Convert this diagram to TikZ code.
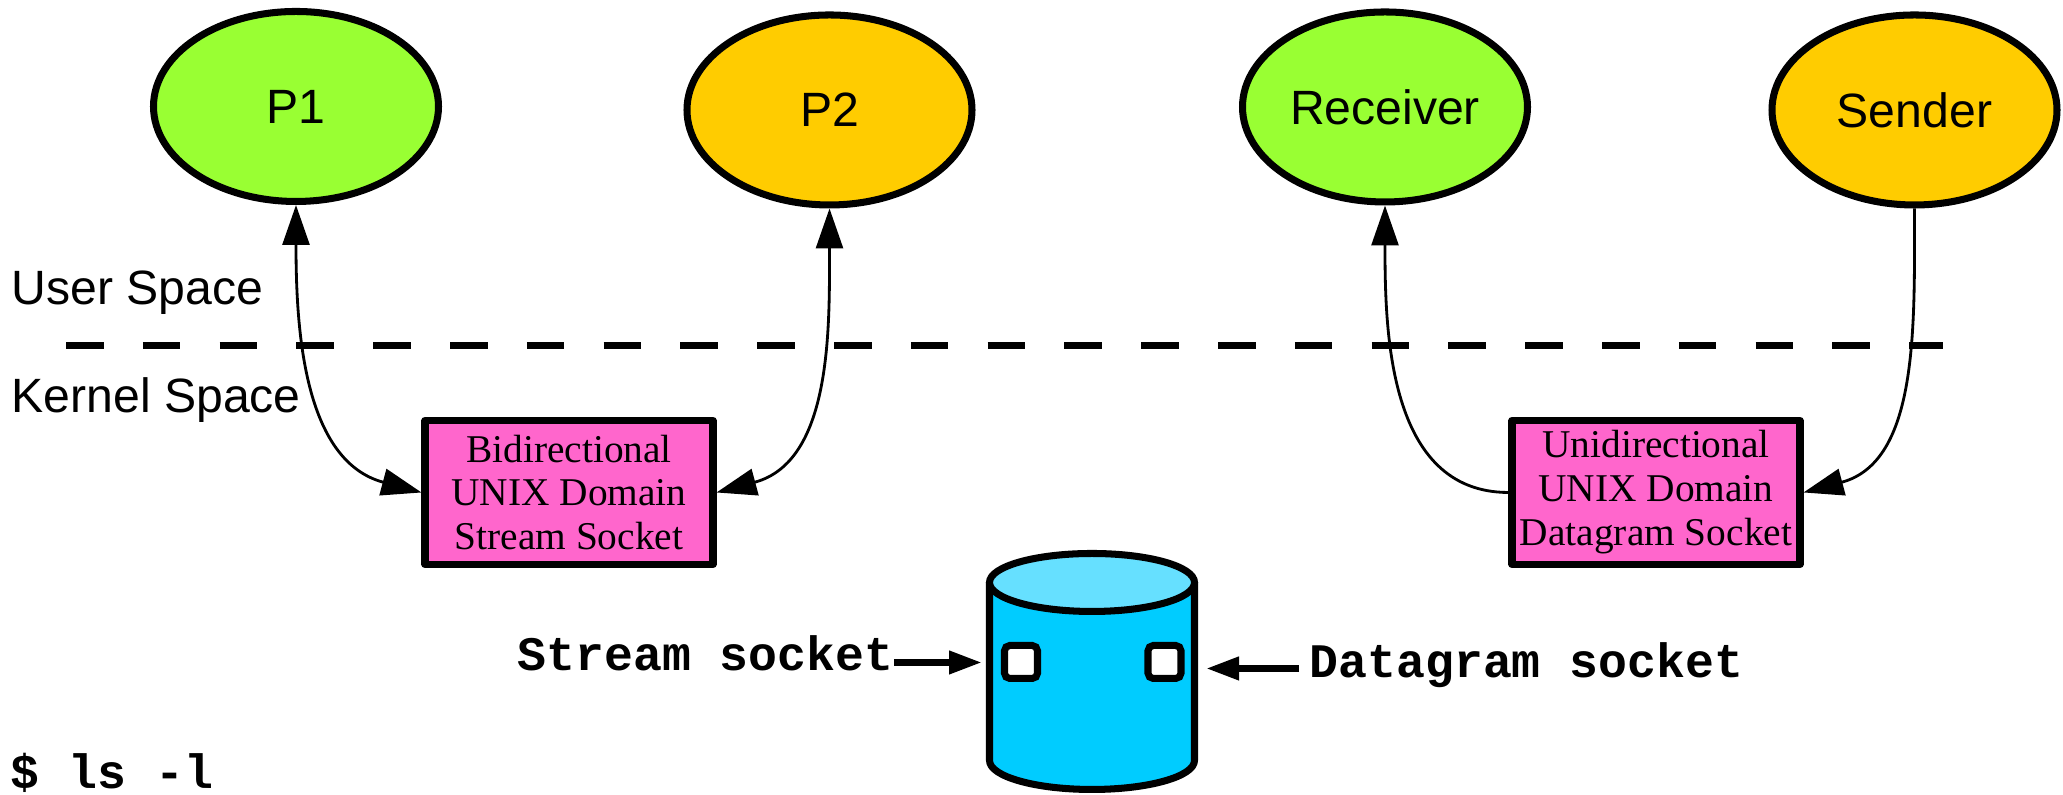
\documentclass[tikz,border=0pt]{standalone}
\usepackage{fontspec}
\setmainfont{Liberation Serif}
\setsansfont{Liberation Sans}
\setmonofont{Liberation Mono}
\usetikzlibrary{arrows.meta,shapes.geometric}
\definecolor{procgreen}{HTML}{99FF33}
\definecolor{procorange}{HTML}{FFCC00}
\definecolor{sockpink}{HTML}{FF66CC}
\definecolor{fsblue}{HTML}{00CCFF}
\definecolor{fstop}{HTML}{66E0FF}
\begin{document}
\begin{tikzpicture}[>={Triangle[length=0.4cm,width=0.27cm]},
    proc/.style={ellipse, draw, line width=2pt, minimum width=2.85cm, minimum height=1.9cm, inner sep=0pt, font=\sffamily\fontsize{13.7}{16}\selectfont},
    sockbox/.style={rectangle, draw, line width=2pt, line join=round, fill=sockpink, minimum width=2.88cm, minimum height=1.44cm, inner sep=0pt, align=center, font=\rmfamily\fontsize{11.2}{12.5}\selectfont},
    link/.style={line width=0.8pt},
    spacelabel/.style={font=\sffamily\fontsize{13.7}{16}\selectfont, inner sep=0pt, anchor=base west},
    cmd/.style={font=\ttfamily\bfseries\fontsize{13.7}{16}\selectfont, inner sep=0pt},
    sockarrow/.style={line width=2pt, -{Triangle[length=0.33cm,width=0.22cm]}},
    hole/.style={draw, fill=white, line width=2pt, rounded corners=1.5pt, minimum size=0.33cm, inner sep=0pt}]
    \useasboundingbox (0,0) rectangle (20.63,7.95);

    \node[proc, fill=procgreen] (p1) at (2.96,6.885) {P1};
    \node[proc, fill=procorange] (p2) at (8.295,6.85) {P2};
    \node[proc, fill=procgreen] (recv) at (13.85,6.88) {Receiver};
    \node[proc, fill=procorange] (send) at (19.145,6.85) {Sender};

    \node[spacelabel] (user) at (0.11,4.90) {User Space};
    \node[spacelabel] (kernel) at (0.11,3.82) {Kernel Space};
    \draw[line width=2pt, dash pattern=on 0.375cm off 0.393cm] (0.66,4.49) -- (19.43,4.49);

    \node[sockbox] (bidir) at (5.69,3.025) {Bidirectional\\UNIX Domain\\Stream Socket};
    \node[sockbox] (unidir) at (16.56,3.025) {Unidirectional\\UNIX Domain\\Datagram Socket};

    \draw[link, <->] (p1.south) to[out=-90, in=165] (bidir.west);
    \draw[link, <->] (p2.south) to[out=-90, in=15] (bidir.east);
    \draw[link, ->] (unidir.west) to[out=180, in=-90] (recv.south);
    \draw[link, ->] (send.south) to[out=-90, in=15] (unidir.east);

    \filldraw[fill=fsblue, line width=2pt, line join=round] (9.895,2.125) -- (9.895,0.345)
        arc[start angle=180, end angle=360, x radius=1.025, y radius=0.29] -- (11.945,2.125);
    \filldraw[fill=fstop, line width=2pt] (10.92,2.125) ellipse [x radius=1.025, y radius=0.29];
    \node[hole] (sqstream) at (10.21,1.33) {};
    \node[hole] (sqdgram) at (11.645,1.33) {};
    \coordinate (streamtip) at (9.82,1.325);
    \coordinate (dgramtip) at (12.06,1.265);

    \node[cmd, anchor=base east] (stream) at (8.94,1.24) {Stream socket};
    \draw[sockarrow] (stream.east |- streamtip) -- (streamtip);
    \node[cmd, anchor=base west, inner xsep=0.1cm] (dgram) at (12.99,1.17) {Datagram socket};
    \draw[sockarrow] (dgram.west |- dgramtip) -- (dgramtip);

    \node[cmd, anchor=base west] (ls) at (0.10,0.06) {\$ ls -l};
\end{tikzpicture}
\end{document}
